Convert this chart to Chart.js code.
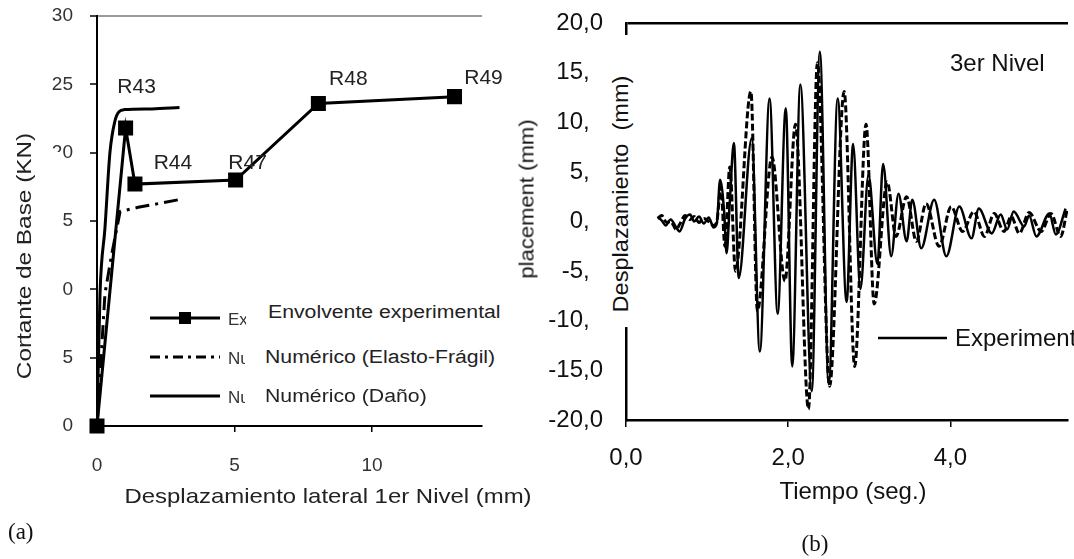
<!DOCTYPE html>
<html><head><meta charset="utf-8">
<script src="https://cdn.jsdelivr.net/npm/chart.js@4.4.1/dist/chart.umd.min.js"></script>
<style>
html,body{margin:0;padding:0;background:#fff;}
body{width:1074px;height:559px;position:relative;overflow:hidden;font-family:"Liberation Sans",Arial,sans-serif;}
canvas{position:absolute;top:0;}
#c1{left:0;width:520px;height:559px;}
#c2{left:500px;width:574px;height:559px;}
.t{position:absolute;white-space:nowrap;line-height:1;color:#111;}
.box{position:absolute;background:#fff;}
</style></head><body>
<canvas id="c1" width="520" height="559"></canvas>
<canvas id="c2" width="574" height="559"></canvas>

<!-- panel (a) overlays -->
<div class="box" style="left:0;top:152px;width:62px;height:233px;"></div>
<div class="t" style="left:23px;top:256px;font-size:21px;color:#222;transform:translate(-50%,-50%) rotate(-90deg) scaleX(1.16);">Cortante de Base (KN)</div>
<div class="t" style="left:328px;top:495px;font-size:21px;color:#222;transform:translate(-50%,-50%) scaleX(1.14);">Desplazamiento lateral 1er Nivel (mm)</div>
<div class="t" style="left:8px;top:520px;font-size:23px;font-family:'Liberation Serif','Times New Roman',serif;color:#111;">(a)</div>
<div class="box" style="left:246px;top:300px;width:259px;height:24px;"></div>
<div class="t" style="left:268px;top:303px;font-size:18px;color:#222;transform-origin:left center;transform:scaleX(1.18);background:#fff;">Envolvente experimental</div>
<div class="box" style="left:245px;top:344px;width:260px;height:26px;"></div>
<div class="t" style="left:265px;top:348px;font-size:18px;color:#222;transform-origin:left center;transform:scaleX(1.18);background:#fff;">Numérico (Elasto-Frágil)</div>
<div class="box" style="left:245px;top:383px;width:200px;height:26px;"></div>
<div class="t" style="left:265px;top:387px;font-size:18px;color:#222;transform-origin:left center;transform:scaleX(1.18);background:#fff;">Numérico (Daño)</div>

<!-- panel (b) overlays -->
<div class="t" style="left:526px;top:199px;font-size:21px;color:#111;transform:translate(-50%,-50%) rotate(-90deg) scaleX(1.05);">placement (mm)</div>
<div class="box" style="left:590px;top:35px;width:48px;height:292px;"></div>
<div class="t" style="left:621px;top:194px;font-size:22px;color:#111;transform:translate(-50%,-50%) rotate(-90deg) scaleX(1.07);">Desplazamiento&nbsp;&nbsp;(mm)</div>
<div class="t" style="left:853px;top:491px;font-size:24px;color:#111;transform:translate(-50%,-50%);">Tiempo (seg.)</div>
<div class="t" style="left:815px;top:543px;font-size:23px;font-family:'Liberation Serif','Times New Roman',serif;transform:translate(-50%,-50%);">(b)</div>
<div class="t" style="left:950px;top:51px;font-size:24px;color:#111;">3er Nivel</div>

<script>
// ---------- Panel (a): base shear vs lateral displacement ----------
const dispExp   = [0, 1.04, 1.38, 5.04, 8.05, 13.0];
const shearExp  = [0, 21.8, 17.7, 18.0, 23.6, 24.1];
const expLabels = ['', 'R43', 'R44', 'R47', 'R48', 'R49'];
const dispFragil  = [0, 0.29, 0.53, 0.84, 1.5, 2.3, 3.08];
const shearFragil = [0, 9.7, 12.5, 15.7, 16.0, 16.3, 16.6];
const dispDano  = [0, 0.11, 0.29, 0.47, 0.65, 0.8, 1.0, 2.0, 3.0];
const shearDano = [0, 9.7, 14.5, 20.0, 22.3, 23.0, 23.15, 23.2, 23.3];
const xTicksA = [0, 5, 10];
const xTickLabelsA = ['0', '5', '10'];
const yTicksA = [0, 5, 10, 15, 20, 25, 30];
const yTickLabelsA = ['0', '5', '10', '15', '20', '25', '30'];
const legendA = ['Ex', 'Nu', 'Nu'];

// ---------- Panel (b): 3rd level displacement time history ----------
const tExp = [0.39,0.44,0.49,0.55,0.62,0.66,0.73,0.79,0.84,0.90,0.96,1.02,1.08,1.12,1.16,1.21,1.24,1.28,1.33,1.39,1.55,1.65,1.77,1.87,1.97,2.05,2.15,2.29,2.39,2.50,2.61,2.72,2.80,2.89,2.99,3.10,3.17,3.27,3.36,3.46,3.53,3.64,3.80,3.95,4.11,4.26,4.35,4.51,4.62,4.70,4.78,4.91,4.97,5.06,5.22,5.30,5.42];
const dExp = [0.5,0.1,-0.4,0.2,-0.6,-1.0,0.3,0.7,0.0,0.5,-0.2,0.4,-0.6,-0.2,4.2,1.0,-3.2,2.0,7.9,-5.7,8.4,-13.1,12.4,-9.3,11.4,-14.6,13.8,-17.1,17.1,-16.4,12.4,-8.1,7.8,-6.8,4.7,-4.3,5.8,-3.5,2.8,-2.0,2.2,-2.7,2.2,-3.5,1.5,-1.7,1.3,-1.2,0.7,-0.8,1.0,-0.5,0.6,-1.5,0.8,-1.3,1.3];
const tNum = [0.39,0.44,0.50,0.55,0.62,0.66,0.73,0.79,0.84,0.90,0.96,1.02,1.08,1.12,1.17,1.22,1.28,1.35,1.54,1.62,1.80,1.96,2.09,2.25,2.36,2.51,2.69,2.82,2.96,3.06,3.22,3.33,3.46,3.58,3.70,3.86,4.01,4.15,4.29,4.42,4.54,4.66,4.75,4.85,4.97,5.12,5.24,5.36,5.44];
const dNum = [0.3,0.6,-0.1,0.0,-0.8,-0.3,0.6,0.2,0.5,-0.1,0.3,0.0,-0.4,0.0,3.5,-2.5,5.5,-5.0,13.1,-9.0,6.5,-6.0,9.8,-18.9,16.0,-16.6,13.1,-14.6,9.8,-8.3,4.0,-1.5,2.5,-2.0,1.8,-2.5,1.5,-1.0,1.0,-1.5,0.8,-1.0,0.5,-1.2,0.9,-1.0,0.8,-1.5,1.2];
const xTicksB = [0, 2, 4];
const xTickLabelsB = ['0,0', '2,0', '4,0'];
const yTicksB = [-20, -15, -10, -5, 0, 5, 10, 15, 20];
const yTickLabelsB = ['-20,0', '-15,0', '-10,0', '-5,0', '0,0', '5,0', '10,0', '15,0', '20,0'];
const legendB = ['Experimental'];

Chart.defaults.font.family = '"Liberation Sans", Arial, sans-serif';
Chart.defaults.animation = false;

const pts = (xs, ys) => xs.map((x, i) => ({x: x, y: ys[i]}));
const transparent = 'rgba(0,0,0,0)';
const noPad = s => { s.paddingTop = 0; s.paddingBottom = 0; s.paddingLeft = 0; s.paddingRight = 0; };

// R-label offsets (style only)
const rOffsets = [[0,0],[11,-41],[38,-21],[12,-17],[30,-24],[29,-18]];

const labelsPluginA = {
  id: 'rlabels',
  afterDatasetsDraw(chart) {
    const ctx = chart.ctx;
    const meta = chart.getDatasetMeta(0);
    ctx.save();
    ctx.font = '21px "Liberation Sans", Arial, sans-serif';
    ctx.fillStyle = '#222';
    ctx.textAlign = 'center';
    ctx.textBaseline = 'middle';
    meta.data.forEach((p, i) => {
      if (!expLabels[i]) return;
      ctx.fillText(expLabels[i], p.x + rOffsets[i][0], p.y + rOffsets[i][1]);
    });
    ctx.restore();
  }
};

const legendPluginA = {
  id: 'legendA',
  afterDraw(chart) {
    const ctx = chart.ctx;
    const rows = [318, 357, 396];
    const dashes = [[], [10, 5, 3, 5], []];
    ctx.save();
    rows.forEach((y, i) => {
      ctx.beginPath();
      ctx.setLineDash(dashes[i]);
      ctx.lineWidth = 3;
      ctx.strokeStyle = '#000';
      ctx.moveTo(150, y); ctx.lineTo(220, y);
      ctx.stroke();
      ctx.setLineDash([]);
      if (i === 0) { ctx.fillStyle = '#000'; ctx.fillRect(179, y - 6, 12, 12); }
      ctx.save();
      ctx.beginPath(); ctx.rect(226, y - 15, 20, 30); ctx.clip();
      ctx.font = '17px "Liberation Sans", Arial, sans-serif';
      ctx.fillStyle = '#333';
      ctx.textBaseline = 'middle';
      ctx.fillText(legendA[i] + 'xxxx', 228, y + 2);
      ctx.restore();
    });
    ctx.restore();
  }
};

new Chart(document.getElementById('c1'), {
  type: 'line',
  data: {
    datasets: [
      { data: pts(dispExp, shearExp), borderColor: '#000', backgroundColor: '#000', borderWidth: 3,
        pointStyle: 'rect', pointRadius: 8.5, tension: 0, clip: false },
      { data: pts(dispFragil, shearFragil), borderColor: '#000', borderWidth: 3, borderDash: [14, 6, 3, 6],
        pointRadius: 0, tension: 0 },
      { data: pts(dispDano, shearDano), borderColor: '#000', borderWidth: 3, pointRadius: 0,
        cubicInterpolationMode: 'monotone' }
    ]
  },
  options: {
    responsive: false,
    layout: { padding: { left: 0, right: 38, top: 16, bottom: 0 } },
    plugins: { legend: { display: false }, tooltip: { enabled: false } },
    scales: {
      x: {
        type: 'linear', min: 0, max: 14,
        afterBuildTicks: s => { s.ticks = xTicksA.map(v => ({ value: v })); },
        afterFit: s => { s.height = 133; noPad(s); },
        ticks: { callback: (v) => xTickLabelsA[xTicksA.indexOf(v)], color: '#333', font: { size: 19 }, padding: 22, maxRotation: 0 },
        grid: { drawOnChartArea: false, color: '#000', tickColor: '#000', tickLength: 6, lineWidth: 1.5 },
        border: { display: true, color: '#000', width: 2 }
      },
      y: {
        type: 'linear', min: 0, max: 30,
        afterBuildTicks: s => { s.ticks = yTicksA.map(v => ({ value: v })); },
        afterFit: s => { s.width = 97; noPad(s); },
        ticks: { callback: (v) => yTickLabelsA[yTicksA.indexOf(v)], color: '#333', font: { size: 19 }, padding: 17 },
        grid: { drawOnChartArea: true, color: c => (c.tick && c.tick.value === 30) ? '#9a9a9a' : transparent,
                lineWidth: 2, tickColor: '#000', tickLength: 7, tickWidth: 1.5 },
        border: { display: true, color: '#000', width: 2 }
      }
    }
  },
  plugins: [labelsPluginA, legendPluginA]
});

const legendPluginB = {
  id: 'legendB',
  afterDraw(chart) {
    const ctx = chart.ctx;
    const off = 500;
    ctx.save();
    ctx.beginPath();
    ctx.lineWidth = 2.5; ctx.strokeStyle = '#000';
    ctx.moveTo(878 - off, 338); ctx.lineTo(947 - off, 338);
    ctx.stroke();
    ctx.font = '24px "Liberation Sans", Arial, sans-serif';
    ctx.fillStyle = '#111';
    ctx.textBaseline = 'middle';
    ctx.fillText(legendB[0], 955 - off, 339);
    ctx.restore();
  }
};

new Chart(document.getElementById('c2'), {
  type: 'line',
  data: {
    datasets: [
      { data: pts(tExp, dExp), borderColor: '#000', borderWidth: 2.5, pointRadius: 0, cubicInterpolationMode: 'monotone' },
      { data: pts(tNum, dNum), borderColor: '#000', borderWidth: 3, borderDash: [7, 3], pointRadius: 0, cubicInterpolationMode: 'monotone' }
    ]
  },
  options: {
    responsive: false,
    layout: { padding: { left: 0, right: 6, top: 23, bottom: 0 } },
    plugins: { legend: { display: false }, tooltip: { enabled: false } },
    scales: {
      x: {
        type: 'linear', min: 0, max: 5.45,
        afterBuildTicks: s => { s.ticks = xTicksB.map(v => ({ value: v })); },
        afterFit: s => { s.height = 139; noPad(s); },
        ticks: { callback: (v) => xTickLabelsB[xTicksB.indexOf(v)], color: '#111', font: { size: 24 }, padding: 17, maxRotation: 0 },
        grid: { drawOnChartArea: false, color: '#000', tickColor: '#000', tickLength: 7, lineWidth: 1.5 },
        border: { display: true, color: '#000', width: 2.5 }
      },
      y: {
        type: 'linear', min: -20, max: 20,
        afterBuildTicks: s => { s.ticks = yTicksB.map(v => ({ value: v })); },
        afterFit: s => { s.width = 126; noPad(s); },
        ticks: { callback: (v) => yTickLabelsB[yTicksB.indexOf(v)], color: '#111', font: { size: 24 }, padding: 23 },
        grid: { drawOnChartArea: true, drawTicks: false, color: c => (c.tick && c.tick.value === 20) ? '#000' : transparent, lineWidth: 2.5 },
        border: { display: true, color: '#000', width: 2.5 }
      }
    }
  },
  plugins: [legendPluginB]
});
</script>
</body></html>
